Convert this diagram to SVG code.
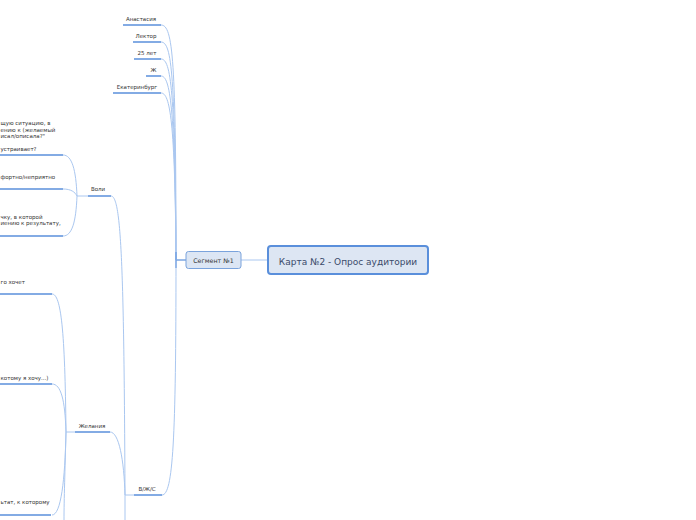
<svg xmlns="http://www.w3.org/2000/svg" width="696" height="520" viewBox="0 0 696 520">
<style>
text{font-family:"DejaVu Sans","Liberation Sans",sans-serif;fill:#333;}
.t{font-size:5.5px;}
.c{text-anchor:middle;}
.s{text-anchor:start;}
.ul{stroke:#5a8fdb;stroke-width:1.5;fill:none;}
.cv{stroke:#aac7f0;stroke-width:1;fill:none;}
.ln{stroke:#aac7f0;stroke-width:1;fill:none;}
</style>
<rect width="696" height="520" fill="#fff"/>
<g id="connectors">
<line class="ln" x1="241" y1="260" x2="268" y2="260"/>
<line x1="176" y1="260" x2="186" y2="260" stroke="#5a8fdb" stroke-width="1.2"/>
<path class="cv" d="M161,25 C173,25 176,60 176,260"/>
<path class="cv" d="M161,42 C172,42 175,75 176,260"/>
<path class="cv" d="M161,59 C171,59 175,90 176,260"/>
<path class="cv" d="M161,76 C170,76 175,105 176,260"/>
<path class="cv" d="M161,93 C170,93 175,120 176,260"/>
<path class="cv" d="M162,495 C173,495 176,440 176,260"/>
<line x1="176" y1="252" x2="176" y2="268" stroke="#5a8fdb" stroke-width="1"/>
<path class="cv" d="M111,196 C121,196 124,260 125,495 L125,520"/>
<path class="cv" d="M110,432 C119,432 124,460 125,495"/>
<line class="ln" x1="125" y1="495" x2="134" y2="495"/>
<line class="ln" x1="77" y1="196" x2="88" y2="196"/>
<path class="cv" d="M63,155 C72,155 76,170 77,196"/>
<path class="cv" d="M63,189 C71,189 75,192 77,196"/>
<path class="cv" d="M63,236 C72,236 76,222 77,196"/>
<line class="ln" x1="66" y1="432" x2="75" y2="432"/>
<path class="cv" d="M52,294 C61,294 65,330 66,432"/>
<path class="cv" d="M52,384 C61,384 65,400 66,432"/>
<path class="cv" d="M52,515 C61,515 65,480 66,432"/>
<path class="cv" d="M66,432 C65,470 64,500 64,520"/>
</g>
<g id="main">
<rect x="268" y="246" width="160" height="28" rx="3" fill="#dde6f3" stroke="#5a8fdb" stroke-width="2"/>
<text x="348" y="264.5" class="c" style="font-size:9px;fill:#3a4a6a">Карта №2 - Опрос аудитории</text>
</g>
<g id="segment">
<rect x="186" y="251.5" width="55" height="17" rx="2.5" fill="#dce6f4" stroke="#7aa3dc" stroke-width="1"/>
<text x="213.5" y="262.5" class="c" style="font-size:6.3px;fill:#333">Сегмент №1</text>
</g>
<g id="n-anastasia"><line class="ul" x1="123" y1="25" x2="161" y2="25"/><text x="141" y="21" class="t c">Анастасия</text></g>
<g id="n-lektor"><line class="ul" x1="133" y1="42" x2="161" y2="42"/><text x="146" y="38" class="t c">Лектор</text></g>
<g id="n-age"><line class="ul" x1="134" y1="59" x2="161" y2="59"/><text x="147" y="55" class="t c">25 лет</text></g>
<g id="n-zh"><line class="ul" x1="146" y1="76" x2="161" y2="76"/><text x="153.5" y="72" class="t c">Ж</text></g>
<g id="n-city"><line class="ul" x1="113" y1="93" x2="161" y2="93"/><text x="137" y="89" class="t c">Екатеринбург</text></g>
<g id="n-vzhs"><line class="ul" x1="134" y1="495" x2="162" y2="495"/><text x="147" y="491" class="t c">В/Ж/С</text></g>
<g id="n-voli"><line class="ul" x1="88" y1="196" x2="111" y2="196"/><text x="98" y="191" class="t c">Воли</text></g>
<g id="n-zhelaniya"><line class="ul" x1="75" y1="432" x2="110" y2="432"/><text x="92" y="428" class="t c">Желания</text></g>
<g id="n-v1"><line class="ul" x1="0" y1="155" x2="63" y2="155"/>
<text x="0.5" y="125" class="t s">щую ситуацию, в</text>
<text x="0.5" y="131.5" class="t s">ению к (желаемый</text>
<text x="0.5" y="138" class="t s">исал/описала?"</text>
<text x="0.5" y="150.5" class="t s">устраивает?</text></g>
<g id="n-v2"><line class="ul" x1="0" y1="189" x2="63" y2="189"/><text x="0.5" y="179" class="t s">фортно/неприятно</text></g>
<g id="n-v3"><line class="ul" x1="0" y1="236" x2="63" y2="236"/>
<text x="0.5" y="218.5" class="t s">чку, в которой</text>
<text x="0.5" y="225" class="t s">иению к результату,</text></g>
<g id="n-w1"><line class="ul" x1="0" y1="294" x2="52" y2="294"/><text x="0.5" y="284" class="t s">го хочет</text></g>
<g id="n-w2"><line class="ul" x1="0" y1="384" x2="52" y2="384"/><text x="0.5" y="380" class="t s">котому я хочу...)</text></g>
<g id="n-w3"><line class="ul" x1="0" y1="515" x2="51" y2="515"/><text x="0.5" y="504" class="t s">ьтат, к которому</text></g>
</svg>
